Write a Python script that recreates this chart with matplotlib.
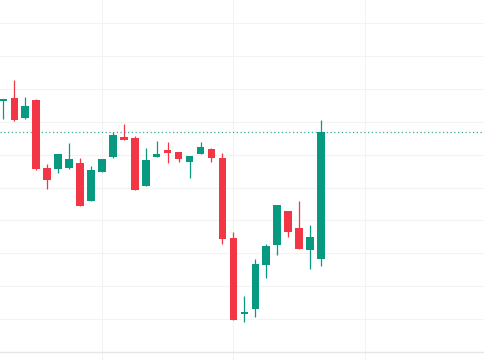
import numpy as np
import matplotlib
matplotlib.use("Agg")
from matplotlib import pyplot as plt

# candle data (arbitrary price units)
opens = [176.30, 177.31, 171.04, 176.52, 155.94, 155.54, 156.03, 157.46, 145.90, 154.81,
         159.19, 165.36, 165.15, 150.37, 159.28, 161.50, 160.71, 157.76, 160.10, 161.71,
         158.88, 134.66, 111.64, 113.16, 126.45, 132.62, 142.77, 137.60, 130.92, 128.27]
highs = [176.91, 182.69, 177.61, 176.76, 157.15, 160.19, 163.44, 158.98, 156.54, 158.67,
         166.97, 169.16, 165.76, 161.92, 164.24, 163.75, 160.80, 159.60, 163.84, 162.11,
         160.40, 136.39, 117.12, 128.27, 132.83, 144.69, 142.86, 145.90, 138.61, 170.53]
lows = [170.83, 170.22, 170.83, 155.33, 149.55, 154.42, 155.78, 144.38, 145.75, 154.72,
        158.98, 164.30, 149.10, 150.31, 159.13, 157.55, 157.67, 152.90, 160.04, 157.67,
        132.83, 109.58, 109.21, 110.73, 122.59, 129.58, 135.05, 131.16, 125.23, 126.14]
closes = [176.76, 170.53, 174.78, 155.63, 152.29, 160.10, 158.58, 144.48, 155.24, 158.58,
          165.97, 164.36, 149.16, 158.37, 160.28, 160.59, 158.67, 159.58, 162.41, 159.07,
          134.26, 109.73, 112.25, 126.66, 132.22, 144.60, 136.48, 131.31, 134.87, 166.73]

up_color = "#089981"
down_color = "#F23645"

def main():
    o = np.array(opens)
    h = np.array(highs)
    l = np.array(lows)
    c = np.array(closes)
    x = np.arange(len(o))
    colors = [up_color if cc >= oo else down_color for oo, cc in zip(o, c)]

    fig = plt.figure(figsize=(4.85, 3.6), dpi=100)
    ax = fig.add_axes([0, 0, 1, 1])
    ax.set_xlim(-0.306, 43.97)
    ax.set_ylim(97.57, 207.0)

    # grid
    for yv in range(110, 210, 10):
        ax.axhline(yv, color="#f3f3f3", lw=0.8, zorder=0)
    for xv in [9, 21, 33]:
        ax.axvline(xv, color="#f3f3f3", lw=0.8, zorder=0)
    ax.axhline(100, color="#e6e6e6", lw=1.0, zorder=0)

    # last price line
    ax.axhline(c[-1], color=up_color, lw=0.9, ls=(0, (1, 2)), alpha=0.8, zorder=1)

    # wicks and bodies
    ax.vlines(x, l, h, colors=colors, lw=0.9, zorder=2)
    bottoms = np.minimum(o, c)
    heights = np.maximum(np.abs(c - o), 0.4)
    ax.bar(x, heights, bottom=bottoms, width=0.69, color=colors, zorder=3, linewidth=0)

    for s in ax.spines.values():
        s.set_visible(False)
    ax.set_xticks([])
    ax.set_yticks([])
    fig.savefig("out.png", dpi=100, facecolor="white")

if __name__ == "__main__":
    main()
